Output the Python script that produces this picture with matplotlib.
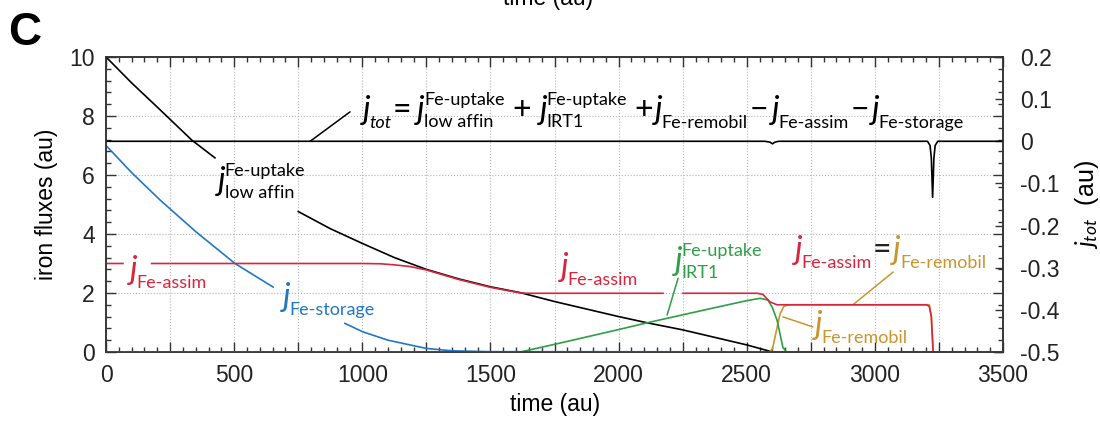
import numpy as np
import matplotlib
matplotlib.use("Agg")
import matplotlib.pyplot as plt
from matplotlib.ticker import MultipleLocator, FuncFormatter
from matplotlib.transforms import offset_copy

plt.rcParams['font.family'] = ['Liberation Sans', 'DejaVu Sans']
plt.rcParams['mathtext.fontset'] = 'custom'
plt.rcParams['mathtext.rm'] = 'Lato'
plt.rcParams['mathtext.it'] = 'Lato:italic'
plt.rcParams['mathtext.bf'] = 'Lato:bold'

nan = np.nan

# (left axis, iron fluxes); nan = gap left for a label
t_low = [0, 100, 200, 335, 425, nan, 750, 875, 1000, 1125, 1250, 1375, 1500,
         1617, 1750, 2000, 2111, 2250, 2500, 2600]
j_low = [10, 9.12, 8.3, 7.18, 6.58, nan, 4.76, 4.18, 3.68, 3.2, 2.8, 2.48, 2.21,
         2.01, 1.71, 1.20, 0.99, 0.75, 0.24, 0.0]

t_storage = [0, 100, 211, 350, 503, 652, nan, 932, 1000, 1100, 1250, 1350, 1500, 3500]
j_storage = [7.0, 6.08, 5.15, 4.08, 3.0, 2.2, nan, 0.97, 0.69, 0.4, 0.12, 0.04, 0.01, 0]

t_assim = [0, 66, nan, 178, 1000, 1071, 1117, 1184, 1250, 1375, 1500, 1617, 1650,
           2173, nan, 2251, 2540, 2563, 2590, 2618, 3200, 3212, 3220, 3227]
j_assim = [3.0, 3.0, nan, 3.0, 3.0, 2.99, 2.96, 2.9, 2.78, 2.46, 2.19, 2.0, 1.99,
           1.99, nan, 1.99, 1.99, 1.95, 1.7, 1.6, 1.6, 1.55, 1.2, 0]

t_irt1 = [1617, 1750, 2000, 2111, 2250, 2400, 2500, 2552, 2583, 2600, 2618, 2630, 2641, 2655]
j_irt1 = [0, 0.26, 0.76, 0.99, 1.26, 1.55, 1.74, 1.82, 1.76, 1.5, 1.08, 0.6, 0.15, 0]

t_remobil = [0, 2590, 2600, 2615, 2630, 2645, 2665, 3212, 3220, 3227]
j_remobil = [0, 0, 0.1, 0.7, 1.3, 1.55, 1.6, 1.6, 1.2, 0]

# right axis, total flux
t_tot = [0, 2570, 2590, 2600, 2610, 2625, 3205, 3215, 3220, 3225, 3230, 3235, 3245, 3500]
j_tot = [0, 0, -0.002, -0.006, -0.002, 0, 0, -0.01, -0.04, -0.133, -0.04, -0.01, 0, 0]

RED = '#d7263d'
BLUE = '#2277c3'
GREEN = '#2e9e47'
GOLD = '#c8952e'
AXC = '#333333'

fig = plt.figure(figsize=(11, 4.25), dpi=100)
ax = fig.add_axes([0.0964, 0.1718, 0.8155, 0.6941])
ax2 = ax.twinx()

lw = 1.2
ax.plot(t_low, j_low, color='black', lw=lw, zorder=3)
ax.plot(t_storage, j_storage, color=BLUE, lw=lw, zorder=3)
ax.plot(t_remobil, j_remobil, color=GOLD, lw=lw, zorder=3)
ax.plot(t_irt1, j_irt1, color=GREEN, lw=lw, zorder=4)
ax.plot(t_assim, j_assim, color=RED, lw=lw, zorder=5)
ax2.plot(t_tot, j_tot, color='black', lw=lw)

ax.set_xlim(0, 3500)
ax.set_ylim(0, 10)
ax2.set_ylim(-0.5, 0.2)

ax.xaxis.set_major_locator(MultipleLocator(250))
ax.xaxis.set_minor_locator(MultipleLocator(50))
ax.xaxis.set_major_formatter(FuncFormatter(lambda v, p: f'{v:.0f}' if round(v) % 500 == 0 else ''))
ax.yaxis.set_major_locator(MultipleLocator(2))
ax.yaxis.set_minor_locator(MultipleLocator(0.4))
ax2.yaxis.set_major_locator(MultipleLocator(0.1))
ax2.yaxis.set_major_formatter(FuncFormatter(lambda v, p: '0' if abs(v) < 1e-9 else f'{v:.1f}'))

ax.grid(which='major', linestyle=':', color='#b5b5b5', lw=0.8)
ax.set_axisbelow(True)

ax.tick_params(which='both', direction='in', top=True, right=True, colors=AXC,
               labelsize=16.5, labelcolor='#222222')
ax.tick_params(which='major', length=7, width=1)
ax.tick_params(which='minor', length=3.8, width=1)
ax.tick_params(axis='x', pad=9)
ax.tick_params(axis='y', pad=8)
ax2.tick_params(direction='in', length=6, width=1, colors=AXC, labelsize=16.5,
                labelcolor='#222222', pad=12)
for a in (ax, ax2):
    for s in a.spines.values():
        s.set_color(AXC)
        s.set_linewidth(1.1)

ax.set_xlabel('time (au)', fontsize=16.5, labelpad=4)
ax.set_ylabel('iron fluxes (au)', fontsize=16.5, labelpad=8)
ax2.set_ylabel(r'$j_{tot}$  (au)', fontsize=18, labelpad=10)

# curve labels: big italic j with sub/superscripts, laid out in pixels
FJ, FS, FO = 24, 13, 23
DROP, RISE = 9, 14
LAB = ['Lato', 'DejaVu Sans']
renderer = fig.canvas.get_renderer()


def put(x, y, dx, dy, s, color, size, italic=False):
    t = ax.text(x, y, s, transform=offset_copy(ax.transData, fig=fig, x=dx, y=dy, units='dots'),
                fontsize=size, family=LAB, style='italic' if italic else 'normal',
                color=color, va='baseline', zorder=6)
    x0 = ax.transData.transform((x, y))[0]
    return t.get_window_extent(renderer).x1 - x0


def jterm(x, y, dx, color, sub=None, sup=None, sub_italic=False):
    xs = put(x, y, dx, 0, 'j', color, FJ, italic=True) - 1
    end = xs
    if sup:
        end = max(end, put(x, y, xs, RISE, sup, color, FS))
    if sub:
        end = max(end, put(x, y, xs, -DROP if not sup else -8, sub, color, FS, italic=sub_italic))
    return end


# total flux equation
x, y = 1003, 7.9
p = jterm(x, y, 0, 'black', sub='tot', sub_italic=True)
p = put(x, y, p + 1, 0, '=', 'black', FO) + 6
p = jterm(x, y, p, 'black', sup='Fe-uptake', sub='low affin')
p = put(x, y, p + 8, 0, '+', 'black', FO) + 9
p = jterm(x, y, p, 'black', sup='Fe-uptake', sub='IRT1')
p = put(x, y, p + 7, 0, '+', 'black', FO) + 2
p = jterm(x, y, p, 'black', sub='Fe-remobil')
p = put(x, y, p + 2, 0, '\u2212', 'black', FO) + 4
p = jterm(x, y, p, 'black', sub='Fe-assim')
p = put(x, y, p + 2, 0, '\u2212', 'black', FO) + 2
jterm(x, y, p, 'black', sub='Fe-storage')

jterm(437, 5.49, 0, 'black', sup='Fe-uptake', sub='low affin')
jterm(94, 2.47, 0, RED, sub='Fe-assim')
jterm(691, 1.56, 0, BLUE, sub='Fe-storage')
jterm(1775, 2.58, 0, RED, sub='Fe-assim')
jterm(2220, 2.78, 0, GREEN, sup='Fe-uptake', sub='IRT1')
p = jterm(2688, 3.15, 0, RED, sub='Fe-assim')
p = put(2688, 3.15, p + 1, 0, '=', '#222222', FO) + 2
jterm(2688, 3.15, p, GOLD, sub='Fe-remobil')
jterm(2766, 0.61, 0, GOLD, sub='Fe-remobil')

# leader lines
leaders = [((796, 7.14), (952, 8.14), 'black'),
           ((2189, 1.25), (2232, 2.5), GREEN),
           ((2914, 1.6), (3071, 2.71), GOLD),
           ((2641, 1.19), (2758, 0.85), GOLD)]
for p0, p1, c in leaders:
    ax.annotate('', xy=p1, xytext=p0,
                arrowprops=dict(arrowstyle='-', color=c, lw=1.1, shrinkA=0, shrinkB=0))

fig.text(0.007, 0.894, 'C', fontsize=33, fontweight='bold', va='baseline')
fig.text(548 / 1100, 1 - 5 / 425, 'time (au)', fontsize=16.5, ha='center', va='baseline')

fig.savefig('out.png', dpi=100)
